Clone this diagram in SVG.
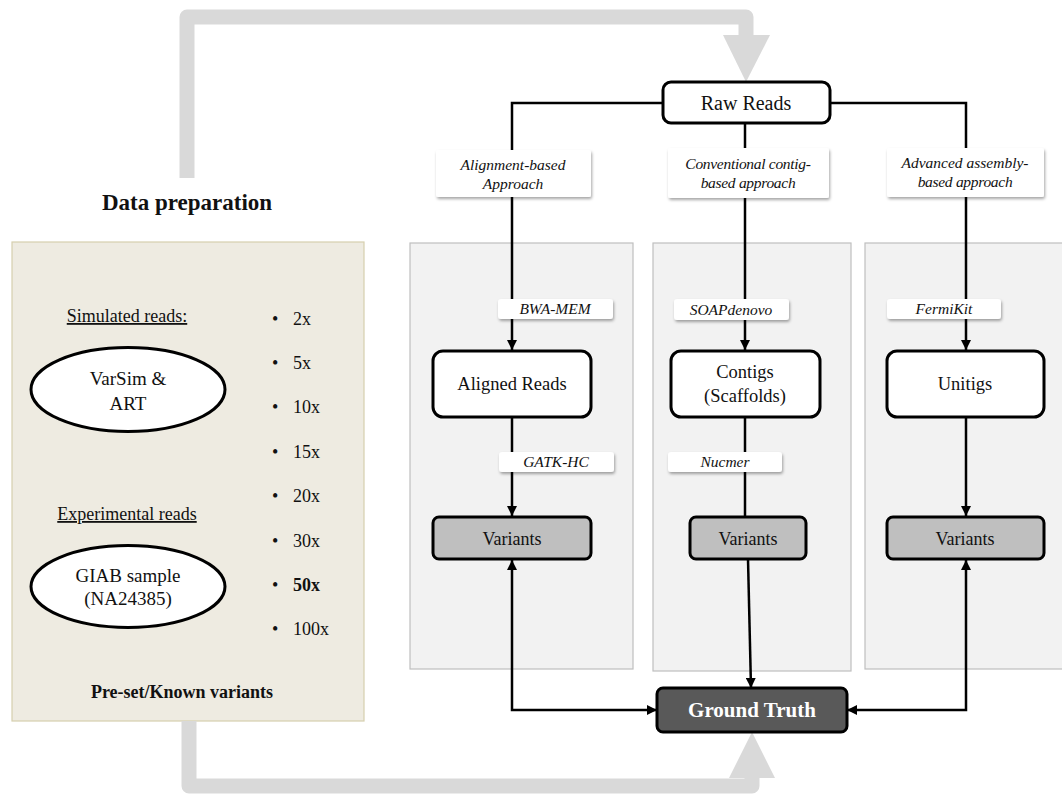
<svg xmlns="http://www.w3.org/2000/svg" width="1062" height="794" viewBox="0 0 1062 794" font-family="'Liberation Serif', 'Times New Roman', serif">
<defs>
<style>
text{font-family:'Liberation Serif','Times New Roman',serif;fill:#111}
.t18{font-size:18px}
.t19{font-size:19px}
.it{font-size:15.5px;font-style:italic}
.mid{text-anchor:middle}
.bold{font-weight:bold}
.panel{fill:#F2F2F2;stroke:#BFBFBF;stroke-width:1.2}
.node{fill:#fff;stroke:#000;stroke-width:3}
.var{fill:#BFBFBF;stroke:#000;stroke-width:3}
.gt{fill:#595959;stroke:#000;stroke-width:3}
.lbl{fill:#fff;filter:url(#sh)}
.con{fill:none;stroke:#000;stroke-width:2.5}
.gray{fill:none;stroke:#D9D9D9;stroke-width:15;stroke-linejoin:round}
.grayhead{fill:#D9D9D9}
.ell{fill:#fff;stroke:#000;stroke-width:3}
</style>
<filter id="sh" x="-10%" y="-20%" width="120%" height="160%">
<feDropShadow dx="1" dy="2" stdDeviation="1.5" flood-color="#000" flood-opacity="0.35"/>
</filter>
<marker id="ah" viewBox="0 0 10 10" refX="10" refY="5" markerWidth="4" markerHeight="4" orient="auto-start-reverse" markerUnits="strokeWidth">
<path d="M0,0 L10,5 L0,10 z" fill="#000"/>
</marker>
</defs>

<!-- Left data preparation area -->
<g id="data-prep">
<text class="bold mid" x="187" y="210" font-size="23">Data preparation</text>
<rect x="12" y="242" width="352" height="479" fill="#EEEBE1" stroke="#D6CFAE" stroke-width="1.2"/>
<text class="t18 mid" x="127" y="322" text-decoration="underline">Simulated reads:</text>
<text class="t18 mid" x="127" y="520" text-decoration="underline">Experimental reads</text>
<text class="bold mid" x="182" y="698" font-size="18">Pre-set/Known variants</text>
</g>
<g id="varsim">
<ellipse class="ell" cx="128" cy="389.5" rx="97" ry="42"/>
<text class="t19 mid" x="128" y="385">VarSim &amp;</text>
<text class="t19 mid" x="128" y="410">ART</text>
</g>
<g id="giab">
<ellipse class="ell" cx="128" cy="586.5" rx="97" ry="41"/>
<text class="t19 mid" x="128" y="582">GIAB sample</text>
<text class="t19 mid" x="128" y="605">(NA24385)</text>
</g>
<g id="coverages" class="t18">
<text x="272" y="325">•<tspan x="293">2x</tspan></text>
<text x="272" y="369">•<tspan x="293">5x</tspan></text>
<text x="272" y="413">•<tspan x="293">10x</tspan></text>
<text x="272" y="458">•<tspan x="293">15x</tspan></text>
<text x="272" y="502">•<tspan x="293">20x</tspan></text>
<text x="272" y="547">•<tspan x="293">30x</tspan></text>
<text x="272" y="591">•<tspan x="293" font-weight="bold">50x</tspan></text>
<text x="272" y="635">•<tspan x="293">100x</tspan></text>
</g>

<!-- Panels -->
<g id="panels">
<rect class="panel" x="410" y="243" width="223" height="426"/>
<rect class="panel" x="653" y="243" width="198" height="428"/>
<rect class="panel" x="865" y="243" width="205" height="426"/>
</g>

<!-- Connectors -->
<g id="connectors">
<path class="gray" d="M187,178 V17 H746 V36"/>
<polygon class="grayhead" points="723,35 770,35 746,82"/>
<path class="gray" d="M189,721 V786 H752 V776"/>
<polygon class="grayhead" points="729,778 775,778 752,732"/>
<path class="con" d="M663,103 H512 V350" marker-end="url(#ah)"/>
<path class="con" d="M830,103 H966 V350" marker-end="url(#ah)"/>
<path class="con" d="M745,123 V350" marker-end="url(#ah)"/>
<path class="con" d="M512,417 V516" marker-end="url(#ah)"/>
<path class="con" d="M745,417 V518"/>
<path class="con" d="M966,417 V516" marker-end="url(#ah)"/>
<path class="con" d="M748,559 L751,688" marker-end="url(#ah)"/>
<path class="con" d="M512,560 V710 H657" marker-start="url(#ah)" marker-end="url(#ah)"/>
<path class="con" d="M966,560 V710 H847" marker-start="url(#ah)" marker-end="url(#ah)"/>
</g>

<!-- Approach labels -->
<g id="lbl-alignment">
<rect class="lbl" x="436" y="150" width="155" height="47" rx="2"/>
<text class="it mid" x="513" y="170">Alignment-based</text>
<text class="it mid" x="513" y="189">Approach</text>
</g>
<g id="lbl-conventional">
<rect class="lbl" x="668" y="148" width="161" height="50" rx="2"/>
<text class="it mid" x="748" y="169" letter-spacing="-0.3">Conventional contig-</text>
<text class="it mid" x="748" y="188" letter-spacing="-0.3">based approach</text>
</g>
<g id="lbl-advanced">
<rect class="lbl" x="887" y="148" width="157" height="49" rx="2"/>
<text class="it mid" x="965" y="168">Advanced assembly-</text>
<text class="it mid" x="965" y="187" letter-spacing="-0.3">based approach</text>
</g>
<g id="lbl-bwa">
<rect class="lbl" x="498" y="299" width="115" height="20" rx="3"/>
<text class="it mid" x="555" y="314">BWA-MEM</text>
</g>
<g id="lbl-soap">
<rect class="lbl" x="674" y="299" width="115" height="21" rx="3"/>
<text class="it mid" x="731" y="315">SOAPdenovo</text>
</g>
<g id="lbl-fermi">
<rect class="lbl" x="887" y="299" width="114" height="20" rx="3"/>
<text class="it mid" x="944" y="314">FermiKit</text>
</g>
<g id="lbl-gatk">
<rect class="lbl" x="499" y="452" width="115" height="20" rx="3"/>
<text class="it mid" x="556" y="467">GATK-HC</text>
</g>
<g id="lbl-nucmer">
<rect class="lbl" x="668" y="452" width="114" height="20" rx="3"/>
<text class="it mid" x="725" y="467">Nucmer</text>
</g>

<!-- Nodes -->
<g id="raw-reads">
<rect class="node" x="663" y="82" width="167" height="41" rx="8"/>
<text class="mid" x="746" y="110" font-size="20">Raw Reads</text>
</g>
<g id="aligned-reads">
<rect class="node" x="433" y="351" width="158" height="66" rx="10"/>
<text class="mid" x="512" y="390" font-size="18.5">Aligned Reads</text>
</g>
<g id="contigs">
<rect class="node" x="671" y="351" width="149" height="66" rx="10"/>
<text class="mid" x="745" y="378" font-size="18.5">Contigs</text>
<text class="mid" x="745" y="402" font-size="18.5">(Scaffolds)</text>
</g>
<g id="unitigs">
<rect class="node" x="887" y="351" width="157" height="66" rx="10"/>
<text class="mid" x="965" y="390" font-size="18.5">Unitigs</text>
</g>
<g id="variants-1">
<rect class="var" x="433" y="517" width="158" height="42" rx="6"/>
<text class="mid" x="512" y="545" font-size="18">Variants</text>
</g>
<g id="variants-2">
<rect class="var" x="690" y="517" width="116" height="42" rx="6"/>
<text class="mid" x="748" y="545" font-size="18">Variants</text>
</g>
<g id="variants-3">
<rect class="var" x="887" y="517" width="157" height="42" rx="6"/>
<text class="mid" x="965" y="545" font-size="18">Variants</text>
</g>
<g id="ground-truth">
<rect class="gt" x="657" y="688" width="190" height="44" rx="6"/>
<text class="mid bold" x="752" y="717" font-size="21" style="fill:#fff">Ground Truth</text>
</g>
</svg>
